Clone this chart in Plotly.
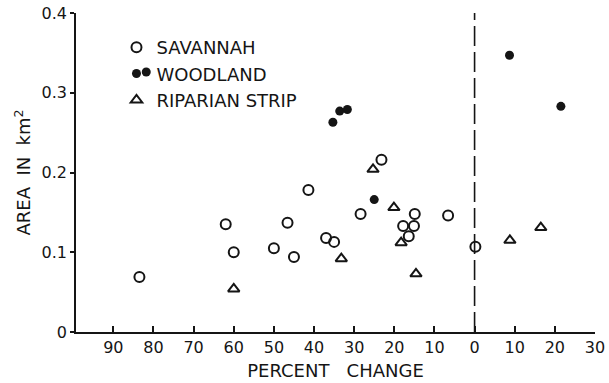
import plotly.graph_objects as go

# Savannah (open circles)
sav_x = [-83.5, -62.0, -60.0, -50.0, -46.6, -45.0, -41.4, -37.0, -35.0, -28.4,
         -23.2, -17.8, -15.1, -16.4, -14.9, -6.6, 0.2]
sav_y = [0.069, 0.135, 0.100, 0.105, 0.137, 0.094, 0.178, 0.118, 0.113, 0.148,
         0.216, 0.133, 0.133, 0.120, 0.148, 0.146, 0.107]

# Woodland (filled circles)
wood_x = [-81.8, -35.3, -33.6, -31.7, -25.0, 8.7, 21.5]
wood_y = [0.326, 0.263, 0.277, 0.279, 0.166, 0.347, 0.283]

# Riparian strip (open triangles)
rip_x = [-60.0, -25.3, -20.1, -33.2, -18.3, -14.6, 8.8, 16.5]
rip_y = [0.054, 0.204, 0.156, 0.092, 0.112, 0.073, 0.115, 0.131]

tick_vals = [-90, -80, -70, -60, -50, -40, -30, -20, -10, 0, 10, 20, 30]
tick_text = [str(abs(v)) for v in tick_vals]
y_ticks = [0, 0.1, 0.2, 0.3, 0.4]
y_text = ["0", "0.1", "0.2", "0.3", "0.4"]

INK = "#151515"
FONT = "DejaVu Sans"

fig = go.Figure()
fig.add_trace(go.Scatter(
    x=sav_x, y=sav_y, mode="markers", name="SAVANNAH",
    marker=dict(symbol="circle-open", size=10, color=INK, line=dict(width=2, color=INK))))
fig.add_trace(go.Scatter(
    x=wood_x, y=wood_y, mode="markers", name="WOODLAND",
    marker=dict(symbol="circle", size=9, color=INK, line=dict(width=0))))
fig.add_trace(go.Scatter(
    x=rip_x, y=rip_y, mode="markers", name="RIPARIAN STRIP",
    marker=dict(symbol="triangle-up-open", size=10, color=INK, line=dict(width=2, color=INK))))

fig.add_shape(type="line", x0=0, x1=0, y0=0, y1=0.403, xref="x", yref="y",
              line=dict(color=INK, width=1.6, dash="20px,6px"))

fig.update_layout(
    width=609, height=383,
    margin=dict(l=76, r=14, t=13, b=51),
    paper_bgcolor="white", plot_bgcolor="white",
    font=dict(family=FONT, color=INK, size=16),
    showlegend=True,
    legend=dict(x=0.078, y=0.95, xanchor="left", yanchor="top",
                font=dict(family=FONT, size=18, color=INK),
                bgcolor="rgba(0,0,0,0)", itemwidth=30, tracegroupgap=0),
    xaxis=dict(range=[-99.3, 30], tickvals=tick_vals, ticktext=tick_text, automargin=False,
               showgrid=False, zeroline=False, showline=True, linecolor=INK, linewidth=1.5,
               ticks="inside", ticklen=6, tickwidth=1.5, tickcolor=INK,
               tickfont=dict(family=FONT, size=16, color=INK),
               title=dict(text="PERCENT   CHANGE", font=dict(family=FONT, size=18, color=INK), standoff=8)),
    yaxis=dict(range=[0, 0.4], tickvals=y_ticks, ticktext=y_text, automargin=False,
               showgrid=False, zeroline=False, showline=True, linecolor=INK, linewidth=1.5,
               ticks="outside", ticklen=4, tickwidth=1.5, tickcolor=INK,
               tickfont=dict(family=FONT, size=16, color=INK),
               title=dict(text="AREA  IN  km<sup>2</sup>", font=dict(family=FONT, size=18, color=INK), standoff=6)),
)

fig.write_html("out.html")
